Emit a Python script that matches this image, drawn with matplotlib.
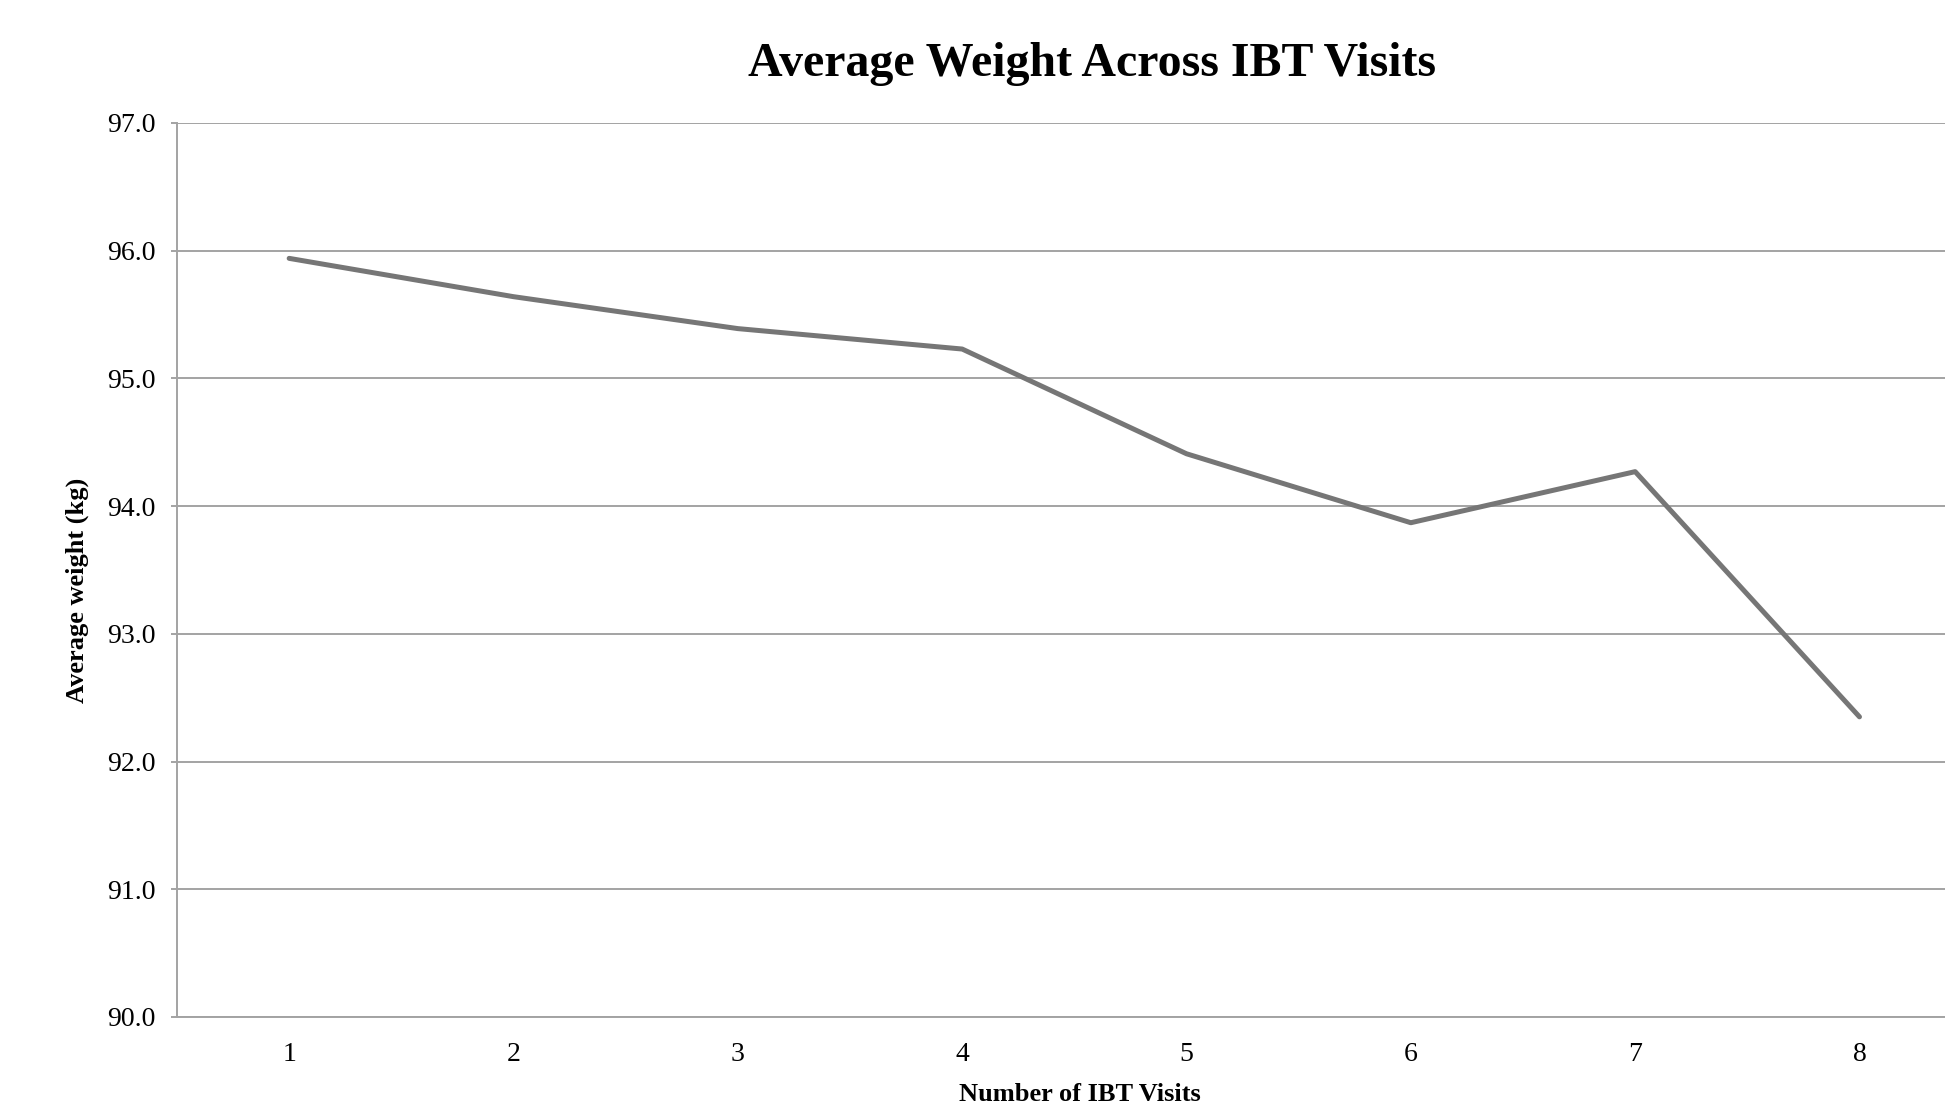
import matplotlib
matplotlib.use("Agg")
import matplotlib.pyplot as plt

visits = [1, 2, 3, 4, 5, 6, 7, 8]
avg_weight = [95.94, 95.64, 95.39, 95.23, 94.41, 93.87, 94.27, 92.35]
y_ticks = [90.0, 91.0, 92.0, 93.0, 94.0, 95.0, 96.0, 97.0]


def main():
    plt.rcParams["font.family"] = ["Liberation Serif", "DejaVu Serif"]
    grid_col = "#a3a3a3"

    fig = plt.figure(figsize=(19.45, 11.03), dpi=100)
    ax = fig.add_axes([0.0910, 0.078, 0.9227, 0.8105])

    ax.plot(visits, avg_weight, color="#767676", linewidth=3.6,
            solid_capstyle="round", zorder=3)

    ax.set_xlim(0.5, 8.5)
    ax.set_ylim(90, 97)
    ax.set_yticks(y_ticks)
    ax.set_yticklabels([f"{v:.1f}" for v in y_ticks])
    ax.set_xticks(visits)
    ax.set_xticklabels([str(v) for v in visits])
    ax.grid(axis="y", color=grid_col, linewidth=1.4)
    ax.set_axisbelow(True)

    for side in ["top", "right"]:
        ax.spines[side].set_visible(False)
    for side in ["left", "bottom"]:
        ax.spines[side].set_color(grid_col)
        ax.spines[side].set_linewidth(1.4)

    ax.tick_params(axis="y", length=4.3, width=1.4, color=grid_col,
                   labelsize=20, pad=11)
    ax.tick_params(axis="x", length=0, labelsize=20, pad=18)

    ax.set_title("Average Weight Across IBT Visits", fontsize=34.5,
                 fontweight="bold", x=0.51, pad=34)
    ax.set_ylabel("Average weight (kg)", fontsize=19, fontweight="bold")
    ax.yaxis.set_label_coords(-0.049, 0.477)
    ax.set_xlabel("Number of IBT Visits", fontsize=19, fontweight="bold")
    ax.xaxis.set_label_coords(0.503, -0.074)

    fig.savefig("out.png", dpi=100)


if __name__ == "__main__":
    main()
